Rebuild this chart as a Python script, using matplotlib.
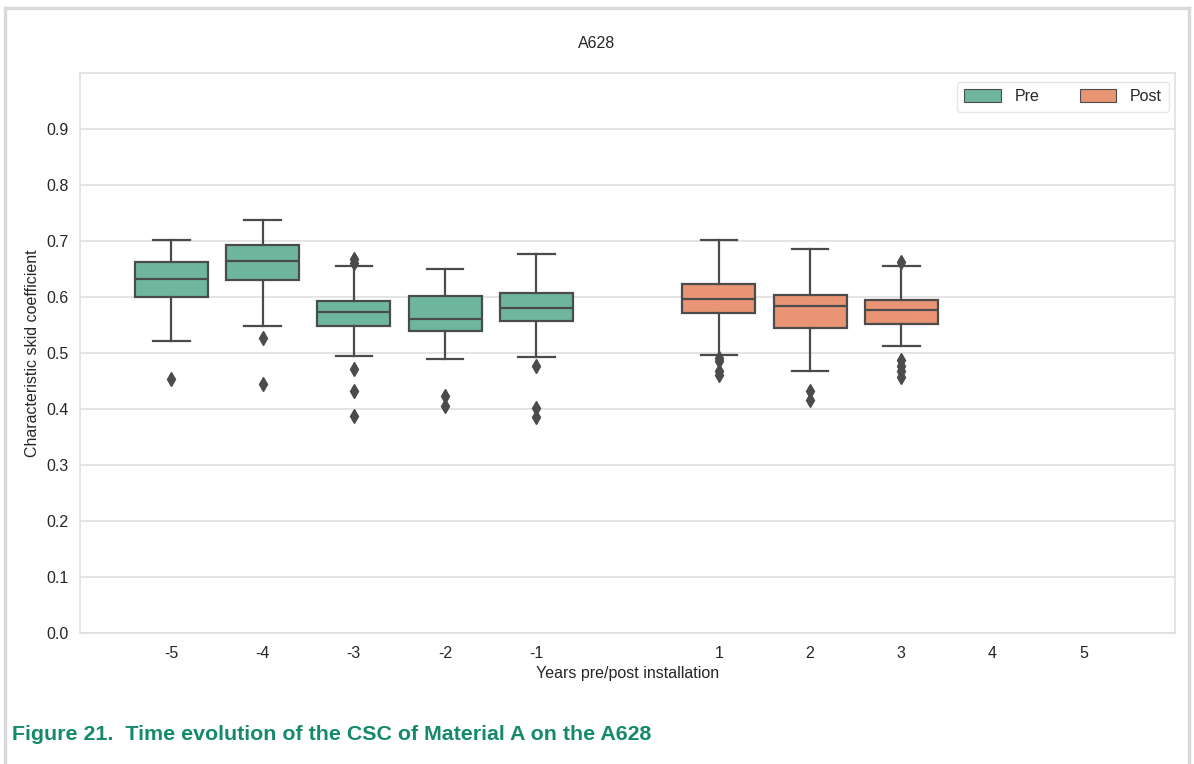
import matplotlib
matplotlib.use("Agg")
import matplotlib.pyplot as plt
from matplotlib.lines import Line2D
from matplotlib.patches import Patch

plt.rcParams['font.family'] = ['Liberation Sans', 'DejaVu Sans']

# box statistics (CSC per year)
years = [-5, -4, -3, -2, -1, 1, 2, 3]
groups = ['Pre', 'Pre', 'Pre', 'Pre', 'Pre', 'Post', 'Post', 'Post']
whis_lo = [0.522, 0.549, 0.495, 0.489, 0.492, 0.496, 0.467, 0.512]
q1 = [0.600, 0.631, 0.548, 0.540, 0.557, 0.572, 0.544, 0.551]
median = [0.633, 0.665, 0.573, 0.561, 0.580, 0.596, 0.584, 0.576]
q3 = [0.662, 0.693, 0.592, 0.601, 0.607, 0.624, 0.603, 0.594]
whis_hi = [0.701, 0.738, 0.656, 0.650, 0.677, 0.701, 0.686, 0.655]
fliers = [
    [0.453],
    [0.526, 0.445],
    [0.668, 0.661, 0.471, 0.432, 0.388],
    [0.423, 0.405],
    [0.477, 0.401, 0.385],
    [0.491, 0.485, 0.468, 0.460],
    [0.433, 0.416],
    [0.663, 0.487, 0.477, 0.467, 0.458],
]
tick_years = [-5, -4, -3, -2, -1, 1, 2, 3, 4, 5]
y_ticks = [0.0, 0.1, 0.2, 0.3, 0.4, 0.5, 0.6, 0.7, 0.8, 0.9]

colors = {'Pre': '#6fb69f', 'Post': '#e99474'}
line_col = '#4b4b4b'
grid_col = '#dddddd'

fig = plt.figure(figsize=(11.94, 7.64), dpi=100)
ax = fig.add_axes([80 / 1194, 1 - 633 / 764, 1095 / 1194, 560 / 764])

stats = []
for i in range(len(years)):
    stats.append(dict(whislo=whis_lo[i], q1=q1[i], med=median[i], q3=q3[i],
                      whishi=whis_hi[i], fliers=fliers[i]))

bp = ax.bxp(stats, positions=years, widths=0.8, capwidths=0.4, patch_artist=True,
            showfliers=True, manage_ticks=False,
            boxprops=dict(edgecolor=line_col, linewidth=1.6),
            medianprops=dict(color=line_col, linewidth=1.6),
            whiskerprops=dict(color=line_col, linewidth=1.6),
            capprops=dict(color=line_col, linewidth=1.6),
            flierprops=dict(marker='d', markerfacecolor=line_col, markeredgecolor=line_col,
                            markersize=7.5, linestyle='none'))
for box, g in zip(bp['boxes'], groups):
    box.set_facecolor(colors[g])
for ln in bp['whiskers'] + bp['caps'] + bp['medians'] + bp['fliers']:
    ln.set_zorder(3)

ax.set_xlim(-6, 6)
ax.set_ylim(0, 1.0)
ax.set_xticks(tick_years)
ax.set_xticklabels([str(t) for t in tick_years])
ax.set_yticks(y_ticks)
ax.set_yticklabels(['%.1f' % t for t in y_ticks])
ax.tick_params(axis='both', length=0, labelsize=11.5, colors='#262626')
ax.tick_params(axis='x', pad=9)
ax.tick_params(axis='y', pad=8)
ax.set_axisbelow(True)
ax.grid(axis='y', color=grid_col, linewidth=1.1)
for sp in ax.spines.values():
    sp.set_color(grid_col)
    sp.set_linewidth(1.1)

ax.set_xlabel('Years pre/post installation', fontsize=11.5, color='#262626')
ax.xaxis.set_label_coords(0.5, -(666 - 633) / 560)
ax.set_ylabel('Characteristic skid coefficient', fontsize=11.5, color='#262626')
ax.yaxis.set_label_coords(-(80 - 40) / 1095, 0.5)

handles = [Patch(facecolor=colors['Pre'], edgecolor=line_col, linewidth=0.8, label='Pre'),
           Patch(facecolor=colors['Post'], edgecolor=line_col, linewidth=0.8, label='Post')]
leg = ax.legend(handles=handles, ncol=2, loc='upper right', fontsize=11.5,
                frameon=True, handlelength=2.3, handleheight=0.9, handletextpad=0.85,
                columnspacing=2.5, borderpad=0.45, borderaxespad=0,
                bbox_to_anchor=((1169 - 80) / 1095, (633 - 82) / 560))
leg.get_frame().set_edgecolor('#e0e0e0')
for t in leg.get_texts():
    t.set_color('#262626')

fig.text(0.5, 1 - 43 / 764, 'A628', ha='center', va='center', fontsize=11.5, color='#262626')

# page frame and caption
frame_col = '#d8d9da'
fig.add_artist(Line2D([4.5 / 1194, 4.5 / 1194], [0, 1 - 7.5 / 764], transform=fig.transFigure,
                      color=frame_col, linewidth=2.4))
fig.add_artist(Line2D([4.5 / 1194, 1189 / 1194], [1 - 7.5 / 764, 1 - 7.5 / 764],
                      transform=fig.transFigure, color=frame_col, linewidth=2.4))
fig.add_artist(Line2D([1189 / 1194, 1189 / 1194], [0, 1 - 7.5 / 764], transform=fig.transFigure,
                      color=frame_col, linewidth=2.4))
fig.text(12 / 1194, 1 - 734 / 764, 'Figure 21.  Time evolution of the CSC of Material A on the A628',
         ha='left', va='center', fontsize=15.4, fontweight='bold', color='#14896b')

fig.savefig('out.png', dpi=100)
